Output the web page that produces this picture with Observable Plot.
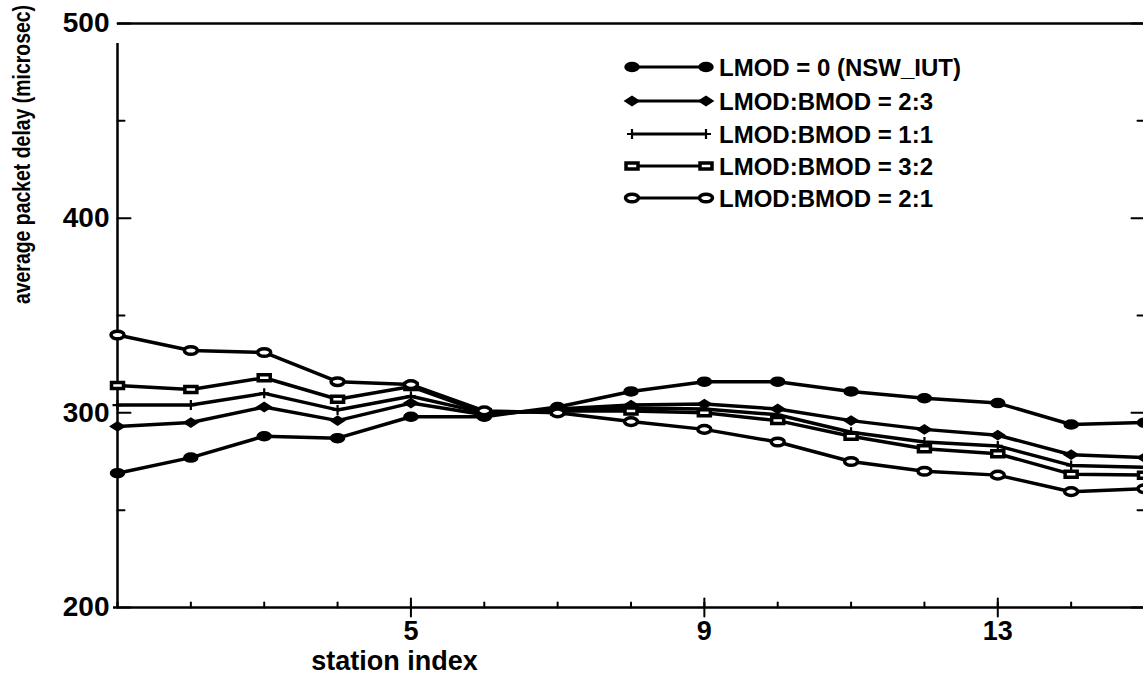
<!DOCTYPE html>
<html><head><meta charset="utf-8">
<script src="https://cdn.jsdelivr.net/npm/d3@7"></script>
<script src="https://cdn.jsdelivr.net/npm/@observablehq/plot@0.6"></script>
<style>
html,body{margin:0;padding:0;background:#fff;overflow:hidden;}
#chart{position:relative;width:1143px;height:676px;overflow:hidden;}
#chart svg{max-width:none !important;}
</style>
</head><body><div id="chart"></div>
<script>
// ---- data ----
const stations = [1,2,3,4,5,6,7,8,9,10,11,12,13,14,15];
const seriesNames = ["LMOD = 0 (NSW_IUT)", "LMOD:BMOD = 2:3", "LMOD:BMOD = 1:1", "LMOD:BMOD = 3:2", "LMOD:BMOD = 2:1"];
const nswIut = [269, 277, 288, 287, 298, 298, 303, 311, 316, 316, 311, 307.5, 305, 294, 295];
const ratio23 = [293, 295, 303, 296, 305, 299, 302, 304, 304.5, 302, 296, 291.5, 288.5, 278.5, 277];
const ratio11 = [304, 304, 310, 301.5, 308.5, 300, 301, 302.5, 302, 299, 290, 285, 283, 273, 272];
const ratio32 = [314, 312, 318, 307, 313.5, 300, 301, 301, 300, 296, 288, 281.5, 279, 268.5, 268];
const ratio21 = [340, 332, 331, 316, 314.5, 301, 300, 295.5, 291.5, 285, 275, 270, 268, 259.5, 261];
const seriesValues = [nswIut, ratio23, ratio11, ratio32, ratio21];
const yTicks = [200, 300, 400, 500];
const yMinorTicks = [250, 350, 450];
const xTicks = [5, 9, 13];
const xLabel = "station index";
const yLabel = "average packet delay (microsec)";

// ---- table ----
const rows = seriesNames.flatMap((name, i) => stations.map((s, j) => ({series: name, station: s, delay: seriesValues[i][j]})));

// ---- custom marker shapes ----
function ellipse(c, rx, ry) {
  const k = 0.5523;
  c.moveTo(rx, 0);
  c.bezierCurveTo(rx, ry * k, rx * k, ry, 0, ry);
  c.bezierCurveTo(-rx * k, ry, -rx, ry * k, -rx, 0);
  c.bezierCurveTo(-rx, -ry * k, -rx * k, -ry, 0, -ry);
  c.bezierCurveTo(rx * k, -ry, rx, -ry * k, rx, 0);
  c.closePath();
}
const symBlob = {draw(c) { ellipse(c, 7, 4.5); }};
const symDiamond = {draw(c) { c.moveTo(-7, 0); c.lineTo(0, -4.5); c.lineTo(7, 0); c.lineTo(0, 4.5); c.closePath(); }};
const symPlus = {draw(c) { c.moveTo(-5, 0); c.lineTo(5, 0); c.moveTo(0, -5); c.lineTo(0, 5); }};
const symRect = {draw(c) { c.moveTo(-6, -3); c.lineTo(6, -3); c.lineTo(6, 3); c.lineTo(-6, 3); c.closePath(); }};
const symOval = {draw(c) { ellipse(c, 6.5, 3.8); }};
const markerStyles = [
  {symbol: symBlob, fill: "black", stroke: "black", strokeWidth: 1.5},
  {symbol: symDiamond, fill: "black", stroke: "black", strokeWidth: 1.5},
  {symbol: symPlus, fill: "none", stroke: "black", strokeWidth: 2.2},
  {symbol: symRect, fill: "white", stroke: "black", strokeWidth: 3.5},
  {symbol: symOval, fill: "white", stroke: "black", strokeWidth: 3.5}
];
const tickShape = {draw(c, l) { c.moveTo(0, 0); c.lineTo(0, -l); }};

const dotMarks = seriesNames.map((name, i) =>
  Plot.dot(rows.filter(d => d.series === name), {x: "station", y: "delay", r: 5, ...markerStyles[i]})
);

const svg = Plot.plot({
  width: 1150,
  height: 676,
  marginLeft: 117,
  marginRight: 6,
  marginTop: 23,
  marginBottom: 69,
  style: {fontFamily: "'Liberation Sans', Arial, Helvetica, sans-serif", fontWeight: "bold", fontSize: "26px", color: "black", background: "white", maxWidth: "none"},
  x: {domain: [1, 15]},
  y: {domain: [200, 500]},
  marks: [
    // frame / axes lines
    Plot.ruleX([1], {y1: 200, y2: 500, stroke: "black", strokeWidth: 2.5, insetBottom: -20}),
    Plot.ruleY([200], {x1: 1, x2: 15, stroke: "black", strokeWidth: 2.5, insetLeft: -4}),
    Plot.ruleY([500], {x1: 1, x2: 15, stroke: "black", strokeWidth: 2.5}),
    // y ticks (left, inward)
    Plot.vector(yTicks, {x: 1, y: d => d, length: 13, rotate: 90, anchor: "start", shape: tickShape, stroke: "black", strokeWidth: 2}),
    Plot.vector(yMinorTicks, {x: 1, y: d => d, length: 7, rotate: 90, anchor: "start", shape: tickShape, stroke: "black", strokeWidth: 2}),
    // y ticks (right, inward)
    Plot.vector(yTicks, {x: 15, y: d => d, length: 13, rotate: -90, anchor: "start", shape: tickShape, stroke: "black", strokeWidth: 2}),
    Plot.vector(yMinorTicks, {x: 15, y: d => d, length: 7, rotate: -90, anchor: "start", shape: tickShape, stroke: "black", strokeWidth: 2}),
    // x ticks
    Plot.vector(stations, {x: d => d, y: 200, length: 5, rotate: 0, anchor: "start", shape: tickShape, stroke: "black", strokeWidth: 2}),
    Plot.vector(xTicks, {x: d => d, y: 200, length: 18, rotate: 0, anchor: "middle", shape: tickShape, stroke: "black", strokeWidth: 2}),
    // tick labels
    Plot.axisY(yTicks, {tickSize: 0, tickPadding: 8, label: null, fontSize: 28}),
    Plot.axisX(xTicks, {tickSize: 0, tickPadding: 13, label: null, fontSize: 27}),
    // axis titles
    Plot.text([xLabel], {frameAnchor: "bottom-left", dx: 277, dy: 54, textAnchor: "middle", lineAnchor: "middle", fontSize: 27, fontWeight: "bold"}),
    Plot.text([yLabel], {frameAnchor: "top-left", dx: -95, dy: 131, rotate: -90, textAnchor: "middle", lineAnchor: "middle", fontSize: 23, fontWeight: "bold"}),
    // data
    Plot.line(rows, {x: "station", y: "delay", z: "series", stroke: "black", strokeWidth: 3.5}),
    ...dotMarks
  ]
});
svg.style.maxWidth = "none";
document.getElementById("chart").appendChild(svg);

// condense the y-axis title along its reading direction
d3.select(svg).selectAll("text").filter(function() { return this.textContent === yLabel; }).each(function() {
  const t = this.getAttribute("transform") || "";
  this.setAttribute("transform", t + " scale(0.845,1)");
});

// ---- in-plot legend ----
const legendRowsY = [67, 101, 134, 166, 198];
const lg = d3.select(svg).append("g").attr("font-family", "'Liberation Sans', Arial, sans-serif").attr("font-weight", "bold");
seriesNames.forEach((name, i) => {
  const y = legendRowsY[i];
  const ms = markerStyles[i];
  lg.append("line").attr("x1", 632).attr("x2", 706).attr("y1", y).attr("y2", y).attr("stroke", "black").attr("stroke-width", 3);
  [632, 706].forEach(x => {
    lg.append("path").attr("d", d3.symbol(ms.symbol)()).attr("transform", `translate(${x},${y})`)
      .attr("fill", ms.fill).attr("stroke", ms.stroke).attr("stroke-width", ms.strokeWidth);
  });
  lg.append("text").attr("x", 719).attr("y", y).attr("dy", "0.36em").attr("text-anchor", "start")
    .attr("font-size", 24).attr("fill", "black").text(name);
});
</script>
</body></html>
